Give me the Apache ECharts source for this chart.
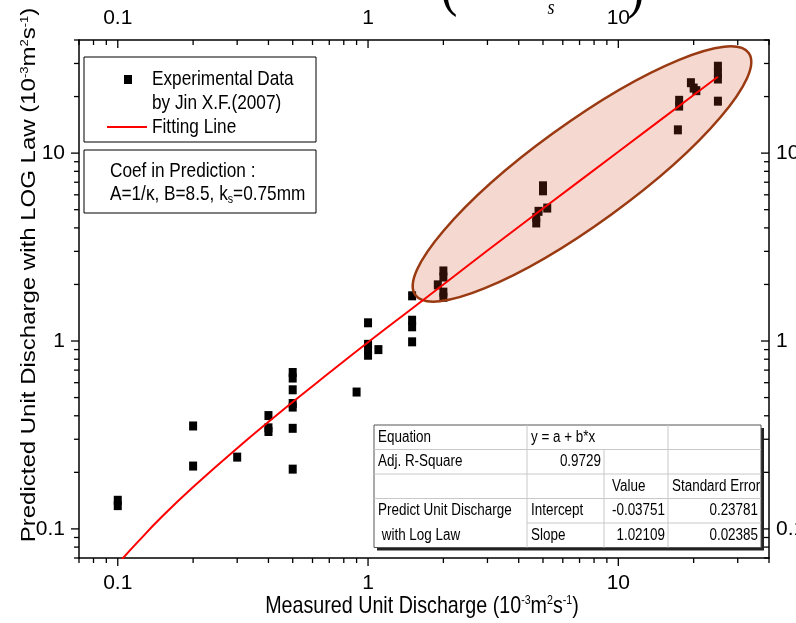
<!DOCTYPE html>
<html>
<head>
<meta charset="utf-8">
<script src="https://cdn.jsdelivr.net/npm/echarts@6/dist/echarts.min.js"></script>
<style>
  html, body { margin: 0; padding: 0; background: #fff; }
  #chart { width: 796px; height: 623px; }
</style>
</head>
<body>
<div id="chart"></div>
<script>
// Measured vs. predicted unit discharge (10^-3 m^2/s), log–log scales

// Experimental data by Jin X.F. (2007)
const measuredQ = [
  0.1, 0.1,
  0.2, 0.2,
  0.3,
  0.4, 0.4, 0.4,
  0.5, 0.5, 0.5, 0.5, 0.5, 0.5, 0.5,
  0.9,
  1.0, 1.0, 1.0, 1.0,
  1.1,
  1.5, 1.5, 1.5, 1.5,
  2.0, 2.0, 2.0, 2.0, 1.9,
  5.0, 5.0, 5.2, 4.8, 4.7, 4.7,
  17.5, 17.5, 17.3,
  19.5, 20.5, 20.0,
  25, 25, 25, 25
];
const predictedQ = [
  0.142, 0.133,
  0.353, 0.216,
  0.241,
  0.401, 0.345, 0.33,
  0.68, 0.635, 0.55, 0.465, 0.445, 0.343, 0.208,
  0.535,
  1.25, 0.96, 0.90, 0.84,
  0.90,
  1.74, 1.29, 1.19, 0.99,
  2.36, 2.19, 1.82, 1.71, 1.99,
  6.7, 6.3, 5.1, 4.9, 4.55, 4.25,
  19.1, 17.8, 13.3,
  23.7, 21.5, 22.2,
  29.0, 26.7, 24.8, 18.9
];

// Fitting line
const fitX = [0.104, 0.12, 0.15, 0.2, 0.3, 0.5, 0.7, 1, 1.5, 2, 3, 5, 10, 20, 25];
const fitY = [0.069, 0.085, 0.116, 0.167, 0.269, 0.473, 0.677, 0.984, 1.49, 2.0, 3.03, 5.07, 10.17, 20.4, 25.49];

// Axis range and tick positions (both axes share the same decades)
const axisMin = 0.07;
const axisMax = 40;
const majorTicks = [0.1, 1, 10];
const minorTicks = [0.07, 0.08, 0.09, 0.2, 0.3, 0.4, 0.5, 0.6, 0.7, 0.8, 0.9,
                    2, 3, 4, 5, 6, 7, 8, 9, 20, 30, 40];

// Regression summary table
const tableRows = [
  ['Equation', 'y = a + b*x', '', ''],
  ['Adj. R-Square', '0.9729', '', ''],
  ['', '', 'Value', 'Standard Error'],
  ['Predict Unit Discharge', 'Intercept', '-0.03751', '0.23781'],
  [' with Log Law', 'Slope', '1.02109', '0.02385']
];

const legendLabels = ['Experimental Data', 'by Jin X.F.(2007)', 'Fitting Line'];
const coefLines = ['Coef in Prediction :', 'A=1/\u03BA, B=8.5, k{sub|s}=0.75mm'];

const SANS = '"Liberation Sans", Arial, sans-serif';
const NARROW = '"Liberation Sans Narrow", "Arial Narrow", "Liberation Sans", Arial, sans-serif';
const SERIF = '"Liberation Serif", "DejaVu Serif", serif';
const SQUASH = 0.82;

const chart = echarts.init(document.getElementById('chart'), null, { renderer: 'canvas' });

function fmtTick(v) {
  if (v >= 1) return String(Math.round(v));
  return String(+v.toPrecision(2));
}

const axisLabelBase = {
  color: '#000', fontSize: 21, fontFamily: NARROW,
  showMinLabel: false, showMaxLabel: false, formatter: fmtTick
};
const axisLineBase = { show: true, onZero: false, lineStyle: { color: '#000', width: 1.5 } };

function logAxis(extra) {
  return Object.assign({
    type: 'log', logBase: 10, min: axisMin, max: axisMax,
    axisLine: axisLineBase, axisTick: { show: false },
    splitLine: { show: false }, minorTick: { show: false }
  }, extra);
}

// Tick marks: bottom/left point outward, top/right point inward
function renderTick(params, api) {
  const v = api.value(0);
  const major = api.value(2) === 1;
  const p = api.coord([v, v]);
  const cs = params.coordSys;
  const L = major ? 8 : 5;
  const left = cs.x, right = cs.x + cs.width, top = cs.y, bottom = cs.y + cs.height;
  const st = { stroke: '#000', lineWidth: 1.3 };
  return {
    type: 'group',
    children: [
      { type: 'line', shape: { x1: p[0], y1: bottom, x2: p[0], y2: bottom + L }, style: st },
      { type: 'line', shape: { x1: p[0], y1: top, x2: p[0], y2: top + L }, style: st },
      { type: 'line', shape: { x1: left, y1: p[1], x2: left - L, y2: p[1] }, style: st },
      { type: 'line', shape: { x1: right, y1: p[1], x2: right - L, y2: p[1] }, style: st }
    ]
  };
}

const tickData = majorTicks.map(v => [v, v, 1]).concat(minorTicks.map(v => [v, v, 0]));

// ---------- overlay graphics ----------
const g = [];

// highlighted cluster
g.push({
  type: 'ellipse', x: 582, y: 174, rotation: 0.628, z: 3,
  shape: { cx: 0, cy: 0, rx: 206, ry: 50 },
  style: { fill: 'rgba(207,77,38,0.21)', stroke: '#9a3a12', lineWidth: 2.5 },
  silent: true
});

// legend box
g.push({ type: 'rect', z: 10, shape: { x: 84, y: 57, width: 232, height: 85 },
  style: { fill: '#fff', stroke: '#000', lineWidth: 1 } });
g.push({ type: 'rect', z: 11, shape: { x: 124, y: 75, width: 8, height: 9 }, style: { fill: '#000' } });
g.push({ type: 'line', z: 11, shape: { x1: 107, y1: 127, x2: 147, y2: 127 },
  style: { stroke: '#ff0000', lineWidth: 2 } });
[79, 103, 127].forEach((yy, i) => {
  g.push({ type: 'text', z: 11, x: 152, y: yy, scaleX: SQUASH,
    style: { text: legendLabels[i], fontSize: 21, fontFamily: SANS, fill: '#000',
      align: 'left', verticalAlign: 'middle' } });
});

// coefficient box
g.push({ type: 'rect', z: 10, shape: { x: 84, y: 150, width: 232, height: 63 },
  style: { fill: '#fff', stroke: '#000', lineWidth: 1 } });
[171, 194].forEach((yy, i) => {
  g.push({ type: 'text', z: 11, x: 110, y: yy, scaleX: SQUASH,
    style: { text: coefLines[i], fontSize: 21, fontFamily: SANS, fill: '#000',
      align: 'left', verticalAlign: 'middle',
      rich: { sub: { fontSize: 13, fontFamily: SANS, verticalAlign: 'bottom', padding: [10, 0, 0, 0] } } } });
});

// regression table
const colX = [374, 527, 604, 668, 761];
const rowY = [425, 449.5, 474, 498.5, 523, 547.5];
g.push({ type: 'rect', z: 9, shape: { x: colX[0] + 3, y: rowY[0] + 3, width: colX[4] - colX[0], height: rowY[5] - rowY[0] },
  style: { fill: '#222' } });
g.push({ type: 'rect', z: 10, shape: { x: colX[0], y: rowY[0], width: colX[4] - colX[0], height: rowY[5] - rowY[0] },
  style: { fill: '#fff', stroke: '#555', lineWidth: 1 } });
const gridStroke = { stroke: '#c8c8c8', lineWidth: 1 };
// horizontal rules
for (let r = 1; r < 5; r++) {
  const x1 = r === 4 ? colX[1] : colX[0];
  g.push({ type: 'line', z: 11, shape: { x1: x1, y1: rowY[r], x2: colX[4], y2: rowY[r] }, style: gridStroke });
}
// vertical rules
g.push({ type: 'line', z: 11, shape: { x1: colX[1], y1: rowY[0], x2: colX[1], y2: rowY[5] }, style: gridStroke });
g.push({ type: 'line', z: 11, shape: { x1: colX[2], y1: rowY[1], x2: colX[2], y2: rowY[5] }, style: gridStroke });
g.push({ type: 'line', z: 11, shape: { x1: colX[3], y1: rowY[0], x2: colX[3], y2: rowY[5] }, style: gridStroke });
tableRows.forEach((row, r) => {
  row.forEach((txt, c) => {
    if (!txt) return;
    const numeric = /^-?[0-9.]+$/.test(txt);
    const cy = (rowY[r] + rowY[r + 1]) / 2;
    let x, align;
    if (numeric) { x = colX[c + 1] - 3; align = 'right'; }
    else if (txt === 'Value') { x = colX[c] + 8; align = 'left'; }
    else { x = colX[c] + 4; align = 'left'; }
    g.push({ type: 'text', z: 12, x: x, y: cy, scaleX: 0.84,
      style: { text: txt, fontSize: 16, fontFamily: SANS, fill: '#000', align: align, verticalAlign: 'middle' } });
  });
});

// axis titles
g.push({ type: 'text', z: 12, x: 422, y: 606, scaleX: SQUASH,
  style: { text: 'Measured Unit Discharge (10{sup|-3}m{sup|2}s{sup|-1})', fontSize: 24, fontFamily: SANS,
    fill: '#000', align: 'center', verticalAlign: 'middle',
    rich: { sup: { fontSize: 13, fontFamily: SANS, verticalAlign: 'top', padding: [0, 0, 8, 0] } } } });
g.push({ type: 'text', z: 12, x: 30, y: 275, rotation: Math.PI / 2, scaleY: SQUASH,
  style: { text: 'Predicted Unit Discharge with LOG Law (10{sup|-3}m{sup|2}s{sup|-1})', fontSize: 24, fontFamily: SANS,
    fill: '#000', align: 'center', verticalAlign: 'middle',
    rich: { sup: { fontSize: 13, fontFamily: SANS, verticalAlign: 'top', padding: [0, 0, 8, 0] } } } });

// formula fragment above the top axis
g.push({ type: 'text', z: 12, x: 449, y: -12, scaleX: SQUASH,
  style: { text: '(', fontSize: 62, fontFamily: SERIF, fill: '#000', align: 'center', verticalAlign: 'middle' } });
g.push({ type: 'text', z: 12, x: 636, y: -10, scaleX: SQUASH,
  style: { text: ')', fontSize: 62, fontFamily: SERIF, fill: '#000', align: 'center', verticalAlign: 'middle' } });
g.push({ type: 'text', z: 12, x: 537, y: -12, scaleX: SQUASH,
  style: { text: 'k', fontSize: 40, fontStyle: 'italic', fontWeight: 'bold', fontFamily: SERIF, fill: '#000',
    align: 'center', verticalAlign: 'middle' } });
g.push({ type: 'text', z: 12, x: 551, y: 8, scaleX: SQUASH,
  style: { text: 's', fontSize: 22, fontStyle: 'italic', fontFamily: SERIF, fill: '#000',
    align: 'center', verticalAlign: 'middle' } });

const option = {
  animation: false,
  backgroundColor: '#fff',
  grid: { left: 79, right: 27, top: 40, bottom: 65, containLabel: false, outerBoundsMode: 'none' },
  xAxis: [
    logAxis({ position: 'bottom', axisLabel: Object.assign({ margin: 15 }, axisLabelBase) }),
    logAxis({ position: 'top', axisLabel: Object.assign({ margin: 11 }, axisLabelBase) })
  ],
  yAxis: [
    logAxis({ position: 'left', axisLabel: Object.assign({ margin: 14 }, axisLabelBase) }),
    logAxis({ position: 'right', axisLabel: Object.assign({ margin: 7 }, axisLabelBase) })
  ],
  series: [
    {
      name: 'Experimental Data',
      type: 'scatter',
      xAxisIndex: 0, yAxisIndex: 0,
      symbol: 'rect', symbolSize: [8, 9],
      itemStyle: { color: '#000', opacity: 1 },
      data: measuredQ.map((x, i) => [x, predictedQ[i]]),
      z: 2, silent: true
    },
    {
      name: 'Fitting Line',
      type: 'line',
      xAxisIndex: 0, yAxisIndex: 0,
      showSymbol: false, smooth: true,
      lineStyle: { color: '#ff0000', width: 2 },
      data: fitX.map((x, i) => [x, fitY[i]]),
      z: 5, silent: true
    },
    {
      name: 'ticks',
      type: 'custom',
      xAxisIndex: 0, yAxisIndex: 0,
      renderItem: renderTick,
      data: tickData,
      clip: false, silent: true, z: 6
    }
  ],
  graphic: { elements: g }
};

chart.setOption(option);
</script>
</body>
</html>
